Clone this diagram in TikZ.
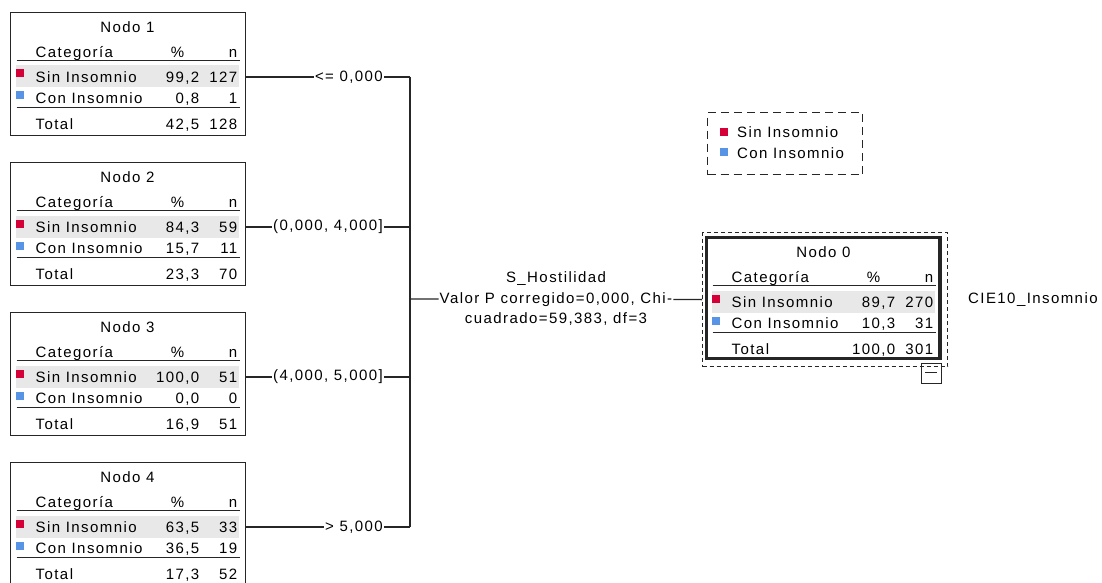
\documentclass[tikz,border=0pt]{standalone}
\usepackage{fontspec}
\setmainfont{Liberation Sans}[LetterSpace=9.5]
\usetikzlibrary{calc}
\definecolor{sinrojo}{RGB}{214,0,56}
\definecolor{conazul}{RGB}{88,148,230}
\definecolor{franja}{RGB}{232,232,232}

\newcommand{\tabla}[9]{%
  \node[caja] (#1) at #2 {};
  \fill[franja] ($(#1.north west)+(5,53)$) rectangle ($(#1.north west)+(228,75)$);
  \fill[sinrojo] ($(#1.north west)+(5,57)$) rectangle ++(8,8);
  \fill[conazul] ($(#1.north west)+(5,79)$) rectangle ++(8,8);
  \node[txt, anchor=base] (#1t) at ($(#1.north west)+(117,20)$) {#3};
  \node[txt, anchor=base west] (#1h) at ($(#1.north west)+(25,45)$) {Categoría};
  \node[txt, anchor=base] (#1hp) at ($(#1.north west)+(167,45)$) {\%};
  \node[txt, anchor=base east] (#1hn) at ($(#1.north west)+(227,45)$) {n};
  \draw[regla] ($(#1.north west)+(6,48)$) -- ($(#1.north west)+(229,48)$);
  \node[txt, anchor=base west] (#1a) at ($(#1.north west)+(25,70)$) {Sin Insomnio};
  \node[txt, anchor=base east] (#1ap) at ($(#1.north west)+(189,70)$) {#4};
  \node[txt, anchor=base east] (#1an) at ($(#1.north west)+(227,70)$) {#5};
  \node[txt, anchor=base west] (#1b) at ($(#1.north west)+(25,91)$) {Con Insomnio};
  \node[txt, anchor=base east] (#1bp) at ($(#1.north west)+(189,91)$) {#6};
  \node[txt, anchor=base east] (#1bn) at ($(#1.north west)+(227,91)$) {#7};
  \draw[regla] ($(#1.north west)+(6,95)$) -- ($(#1.north west)+(229,95)$);
  \node[txt, anchor=base west] (#1c) at ($(#1.north west)+(25,117)$) {Total};
  \node[txt, anchor=base east] (#1cp) at ($(#1.north west)+(189,117)$) {#8};
  \node[txt, anchor=base east] (#1cn) at ($(#1.north west)+(227,117)$) {#9};
}

\begin{document}
\begin{tikzpicture}[x=1pt, y=-1pt]
  \tikzstyle{txt}=[inner sep=0pt, font=\fontsize{15}{18}\selectfont]
  \tikzstyle{regla}=[line width=1.3pt, black!85]
  \tikzstyle{caja}=[draw=black!85, line width=1.3pt, anchor=north west, minimum width=235pt, minimum height=123pt, inner sep=0pt, outer sep=0pt]
  \tikzstyle{rama}=[txt, inner sep=1pt, anchor=east]

\useasboundingbox (0,0) rectangle (1102,583);
\clip (0,0) rectangle (1102,583);

\tabla{n1}{(10.5,12.5)}{Nodo 1}{99,2}{127}{0,8}{1}{42,5}{128}
\tabla{n2}{(10.5,162.5)}{Nodo 2}{84,3}{59}{15,7}{11}{23,3}{70}
\tabla{n3}{(10.5,312.5)}{Nodo 3}{100,0}{51}{0,0}{0}{16,9}{51}
\tabla{n4}{(10.5,462.5)}{Nodo 4}{63,5}{33}{36,5}{19}{17,3}{52}

\begin{scope}[caja/.append style={line width=3.5pt, minimum width=233.5pt, minimum height=121pt}]
\tabla{n0}{(706.5,237.5)}{Nodo 0}{89,7}{270}{10,3}{31}{100,0}{301}
\end{scope}
\node[draw=black!85, line width=1.2pt, dash pattern=on 4pt off 3pt, anchor=north west, minimum width=245pt, minimum height=134pt, inner sep=0pt] (n0f) at (702,232) {};
\node[draw=black!85, line width=1.2pt, anchor=north east, minimum width=20pt, minimum height=20pt, inner sep=0pt] (plegar) at (942,363) {};
\draw[regla] ($(plegar.center)+(-6,-1)$) -- ($(plegar.center)+(6,-1)$);

\coordinate (n1s) at ($(n1.north east)+(0,64.5)$);
\coordinate (n2s) at ($(n2.north east)+(0,64.5)$);
\coordinate (n3s) at ($(n3.north east)+(0,64.5)$);
\coordinate (n4s) at ($(n4.north east)+(0,64.5)$);
\coordinate (j1) at (410,77);
\coordinate (j2) at (410,227);
\coordinate (j3) at (410,377);
\coordinate (j4) at (410,527);
\coordinate (js) at (410,299);

\node[rama] (l1) at (384,77) {<= 0,000};
\draw[regla] (n1s) -- (l1) -- (j1);

\node[rama] (l2) at (384,227) {(0,000, 4,000]};
\draw[regla] (n2s) -- (l2) -- (j2);

\node[rama] (l3) at (384,377) {(4,000, 5,000]};
\draw[regla] (n3s) -- (l3) -- (j3);

\node[rama] (l4) at (384,527) {> 5,000};
\draw[regla] (n4s) -- (l4) -- (j4);

\draw[regla] (j1) -- (j4);

\node[txt, align=center, inner sep=1pt, font=\fontsize{15}{20.5}\selectfont] (split) at (556,299) {S\_Hostilidad\\Valor P corregido=0,000, Chi-\\cuadrado=59,383, df=3};
\draw[regla] (js) -- (split) -- (n0f.west);

\node[txt, anchor=west] (var) at (968,300) {CIE10\_Insomnio};

\node[draw=black!85, line width=1.2pt, dash pattern=on 8pt off 5pt, anchor=north west, minimum width=155pt, minimum height=62pt, inner sep=0pt] (leyenda) at (707,112) {};
\fill[sinrojo] ($(leyenda.north west)+(13,16)$) rectangle ++(8,8);
\fill[conazul] ($(leyenda.north west)+(13,36)$) rectangle ++(8,8);
\node[txt, anchor=base west] (ley1) at ($(leyenda.north west)+(30,25)$) {Sin Insomnio};
\node[txt, anchor=base west] (ley2) at ($(leyenda.north west)+(30,46)$) {Con Insomnio};

\end{tikzpicture}
\end{document}
